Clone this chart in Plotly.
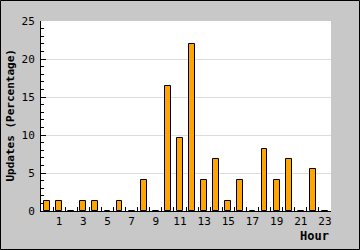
import plotly.graph_objects as go

hours = list(range(24))
updates_pct = [1.37, 1.37, 0, 1.37, 1.37, 0, 1.37, 0, 4.11, 0, 16.44, 9.59,
               21.92, 4.11, 6.85, 1.37, 4.11, 0, 8.22, 4.11, 6.85, 0, 5.48, 0]
x_tick_vals = [1, 3, 5, 7, 9, 11, 13, 15, 17, 19, 21, 23]
x_tick_text = [str(v) for v in x_tick_vals]
x_boundaries = [h - 0.5 for h in range(25)]
y_tick_vals = [0, 5, 10, 15, 20, 25]

fig = go.Figure()
fig.add_trace(go.Bar(
    x=hours, y=updates_pct, width=0.48,
    marker=dict(color="#ffa500", line=dict(color="black", width=1)),
))

W, H = 360, 250
ml, mr, mt, mb = 41, 29, 21, 39
pw, ph = W - ml - mr, H - mt - mb

fig.update_layout(
    width=W, height=H,
    margin=dict(l=ml, r=mr, t=mt, b=mb),
    paper_bgcolor="#c8c8c8", plot_bgcolor="white",
    showlegend=False,
    font=dict(family="DejaVu Sans Mono", size=11, color="black"),
    bargap=0,
    xaxis=dict(
        range=[-0.5, 23.5], tickmode="array", tickvals=x_tick_vals, ticktext=x_tick_text,
        ticks="inside", ticklen=0, tickcolor="rgba(0,0,0,0)",
        showline=True, linecolor="black", linewidth=1, showgrid=False, zeroline=False,
        tickfont=dict(family="DejaVu Sans Mono", size=11),
        minor=dict(tickmode="array", tickvals=x_boundaries, ticks="inside",
                   ticklen=4, tickcolor="black", showgrid=False),
        fixedrange=True,
    ),
    yaxis=dict(
        range=[0, 25], tickmode="array", tickvals=y_tick_vals,
        ticks="inside", ticklen=5, tickcolor="black",
        showline=True, linecolor="black", linewidth=1,
        showgrid=True, gridcolor="#dcdcdc", gridwidth=1, zeroline=False,
        tickfont=dict(family="DejaVu Sans Mono", size=11),
        minor=dict(dtick=1, ticks="inside", ticklen=3, tickcolor="black", showgrid=False),
        ticklabelstandoff=3,
    ),
    shapes=[dict(type="rect", xref="paper", yref="paper",
                 x0=-(ml - 0.5) / pw, x1=1 + (mr - 0.5) / pw,
                 y0=-(mb - 0.5) / ph, y1=1 + (mt - 0.5) / ph,
                 line=dict(color="black", width=1), layer="above")],
    annotations=[
        dict(text="<b>Updates (Percentage)</b>", xref="paper", yref="paper",
             x=-(ml - 9.5) / pw, y=0.5, textangle=-90, showarrow=False,
             xanchor="center", yanchor="middle",
             font=dict(family="DejaVu Sans Mono", size=11)),
        dict(text="<b>Hour</b>", xref="paper", yref="paper",
             x=1.0, y=-(236 - mt - ph) / ph, showarrow=False,
             xanchor="right", yanchor="middle",
             font=dict(family="DejaVu Sans Mono", size=12)),
    ],
)

fig.write_html("out.html")
